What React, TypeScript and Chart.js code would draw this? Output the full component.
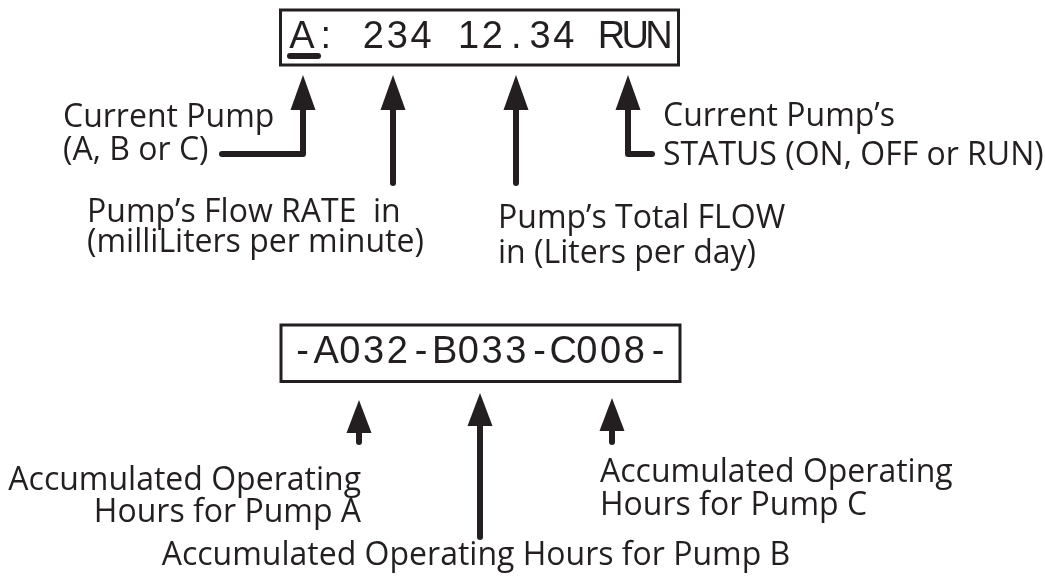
import React, { useEffect, useRef } from "react";
import { Chart, registerables } from "chart.js";

Chart.register(...registerables);

// ---------- data ----------
const topDisplay = "A: 234 12.34 RUN";
const bottomDisplay = "-A032-B033-C008-";
const underlinedChars = [0];

// top arrows (diagram units: x across, y down)
const topArrowX = [303, 393, 516, 628];
const topArrowTipY = [75, 75, 75, 75];
const topArrowTailY = [155, 183, 183, 155];
const topArrowElbowX: (number | null)[] = [222, null, null, 652];

// bottom arrows
const bottomArrowX = [359, 480, 612];
const bottomArrowTipY = [400, 393, 398];
const bottomArrowTailY = [442, 537, 442];

// callout texts
const labelTexts = [
  "Current Pump",
  "(A, B or C)",
  "Pump\u2019s Flow RATE  in",
  "(milliLiters per minute)",
  "Pump\u2019s Total FLOW",
  "in (Liters per day)",
  "Current Pump\u2019s",
  "STATUS (ON, OFF or RUN)",
  "Accumulated Operating",
  "Hours for Pump A",
  "Accumulated Operating",
  "Hours for Pump C",
  "Accumulated Operating Hours for Pump B",
];

// ---------- layout / style ----------
const INK = "#231f20";
const labelAnchors: [number, number, CanvasTextAlign][] = [
  [63, 127, "left"],
  [63, 160, "left"],
  [87, 222, "left"],
  [87, 252, "left"],
  [498, 228, "left"],
  [498, 263, "left"],
  [663, 126, "left"],
  [663, 165, "left"],
  [361, 490, "right"],
  [361, 522, "right"],
  [600, 482, "left"],
  [600, 515, "left"],
  [476, 565, "center"],
];
const LABEL_FONT = '32px "Open Sans"';
const LABEL_SCALE_X = 1.0;
const LCD_FONT = '38px "Liberation Sans"';
const LCD_SCALE_X = 1.0;
const topBox = { x0: 280.5, x1: 678.5, y0: 10, y1: 65, c0: 302, pitch: 23.8, base: 48 };
const botBox = { x0: 281, x1: 680, y0: 325, y1: 381.5, c0: 302.5, pitch: 23.7, base: 363 };
const HEAD_LEN_TOP = 35;
const HEAD_LEN_BOT = 33;
const HEAD_HALF = 12.5;

function rect(b: { x0: number; x1: number; y0: number; y1: number }) {
  return [
    { x: b.x0, y: b.y0 },
    { x: b.x1, y: b.y0 },
    { x: b.x1, y: b.y1 },
    { x: b.x0, y: b.y1 },
    { x: b.x0, y: b.y0 },
  ];
}

type Arrow = { x: number; tip: number; tail: number; elbow: number | null; head: number };
const arrows: Arrow[] = [
  ...topArrowX.map((x, i) => ({
    x,
    tip: topArrowTipY[i],
    tail: topArrowTailY[i],
    elbow: topArrowElbowX[i],
    head: HEAD_LEN_TOP,
  })),
  ...bottomArrowX.map((x, i) => ({
    x,
    tip: bottomArrowTipY[i],
    tail: bottomArrowTailY[i],
    elbow: null,
    head: HEAD_LEN_BOT,
  })),
];

const lineBase = {
  showLine: true,
  pointRadius: 0,
  pointHoverRadius: 0,
  borderColor: INK,
  backgroundColor: INK,
  fill: false,
  tension: 0,
};

const diagramPlugin = {
  id: "diagram",
  afterDatasetsDraw(chart: any) {
    const ctx: CanvasRenderingContext2D = chart.ctx;
    const xs = chart.scales.x;
    const ys = chart.scales.y;
    const px = (v: number) => xs.getPixelForValue(v);
    const py = (v: number) => ys.getPixelForValue(v);

    ctx.save();
    ctx.fillStyle = INK;

    // arrowheads
    arrows.forEach((a) => {
      ctx.beginPath();
      ctx.moveTo(px(a.x), py(a.tip));
      ctx.lineTo(px(a.x + HEAD_HALF), py(a.tip + a.head));
      ctx.lineTo(px(a.x - HEAD_HALF), py(a.tip + a.head));
      ctx.closePath();
      ctx.fill();
    });

    // LCD characters
    ctx.font = LCD_FONT;
    ctx.textAlign = "center";
    ctx.textBaseline = "alphabetic";
    [
      [topDisplay, topBox],
      [bottomDisplay, botBox],
    ].forEach(([s, b]: any) => {
      for (let i = 0; i < s.length; i++) {
        ctx.save();
        ctx.translate(px(b.c0 + b.pitch * i), py(b.base));
        ctx.scale(LCD_SCALE_X, 1);
        ctx.fillText(s[i], 0, 0);
        ctx.restore();
      }
    });

    // callout labels
    ctx.font = LABEL_FONT;
    ctx.textBaseline = "alphabetic";
    labelTexts.forEach((t, i) => {
      const [x, y, al] = labelAnchors[i];
      ctx.save();
      ctx.translate(px(x), py(y));
      ctx.scale(LABEL_SCALE_X, 1);
      ctx.textAlign = al;
      ctx.fillText(t, 0, 0);
      ctx.restore();
    });
    ctx.restore();
  },
};

export default function App() {
  const ref = useRef<HTMLCanvasElement | null>(null);

  useEffect(() => {
    document.body.style.margin = "0";
    document.body.style.background = "#ffffff";
    const canvas = ref.current;
    if (!canvas) return;

    const datasets: any[] = [];
    // boxes
    [topBox, botBox].forEach((b) =>
      datasets.push({
        ...lineBase,
        data: rect(b),
        borderWidth: 3,
        borderCapStyle: "square",
        borderJoinStyle: "miter",
      })
    );
    // underline(s)
    underlinedChars.forEach((ci) => {
      const cx = topBox.c0 + topBox.pitch * ci;
      datasets.push({
        ...lineBase,
        data: [
          { x: cx - 12, y: 56 },
          { x: cx + 16, y: 56 },
        ],
        borderWidth: 6,
        borderCapStyle: "round",
      });
    });
    // arrow shafts
    arrows.forEach((a) => {
      const pts: { x: number; y: number }[] = [];
      if (a.elbow !== null) pts.push({ x: a.elbow, y: a.tail - 1 });
      pts.push({ x: a.x, y: a.elbow !== null ? a.tail - 1 : a.tail });
      pts.push({ x: a.x, y: a.tip + a.head - 2 });
      datasets.push({
        ...lineBase,
        data: pts,
        borderWidth: 6,
        borderCapStyle: "round",
        borderJoinStyle: "round",
      });
    });

    const chart = new Chart(canvas, {
      type: "scatter",
      data: { datasets },
      options: {
        animation: false,
        responsive: false,
        devicePixelRatio: 1,
        layout: { padding: 0, autoPadding: false },
        scales: {
          x: { type: "linear", min: 0, max: 1045, display: false },
          y: { type: "linear", min: 0, max: 576, reverse: true, display: false },
        },
        plugins: {
          legend: { display: false },
          tooltip: { enabled: false },
        },
        events: [],
      } as any,
      plugins: [diagramPlugin],
    });
    return () => chart.destroy();
  }, []);

  return (
    <div style={{ width: 1045, height: 576, background: "#ffffff" }}>
      <canvas ref={ref} width={1045} height={576} style={{ display: "block" }} />
    </div>
  );
}
